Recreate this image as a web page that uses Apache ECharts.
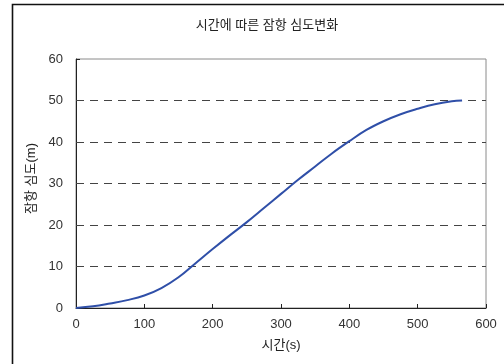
<!DOCTYPE html>
<html>
<head>
<meta charset="utf-8">
<script src="https://cdn.jsdelivr.net/npm/echarts@6/dist/echarts.min.js"></script>
<style>
html,body{margin:0;padding:0;background:#fff;}
#c{width:504px;height:364px;}
</style>
</head>
<body>
<div id="c"></div>
<script>
var timeS = [0,25,50,75,100,125,150,175,200,225,250,275,300,325,350,375,400,425,450,475,500,525,550,565];
var depthM = [0,0.4,1.1,1.9,3.0,4.8,7.4,10.8,14.2,17.5,20.7,24.1,27.5,30.9,34.1,37.3,40.2,42.9,45.0,46.7,48.0,49.1,49.8,50.0];
var gridValues = [10,20,30,40,50];
var titleText = '시간에 따른 잠항 심도변화';
var xName = '시간(s)';
var yName = '잠항 심도(m)';

var FONT = '"Liberation Sans", "Noto Sans CJK KR", sans-serif';
var chart = echarts.init(document.getElementById('c'), null, {renderer:'canvas'});
var pts = timeS.map(function(t,i){return [t, depthM[i]];});
chart.setOption({
  animation:false,
  backgroundColor:'#fff',
  title:{text:titleText, left:262, top:14, textAlign:'center',
    textStyle:{fontFamily:FONT, fontSize:13, fontWeight:'normal', color:'#222'}},
  graphic:[
    {type:'polyline', shape:{points:[[12.5,370],[12.5,4.5],[510,4.5]]}, style:{stroke:'#111', lineWidth:1.6, fill:null}, z:10}
  ],
  grid:{left:76, top:59, width:410, height:249, show:true, borderColor:'#8a8a8a', borderWidth:1, backgroundColor:'#fff'},
  xAxis:{type:'value', min:0, max:600, interval:100,
    name:xName, nameLocation:'middle', nameGap:31,
    nameTextStyle:{fontFamily:FONT, fontSize:13, color:'#222'},
    axisLine:{lineStyle:{color:'#222', width:1}},
    axisTick:{inside:true, length:4, lineStyle:{color:'#222'}},
    axisLabel:{fontFamily:FONT, fontSize:13, color:'#333', margin:10},
    splitLine:{show:false}},
  yAxis:{type:'value', min:0, max:60, interval:10,
    name:yName, nameLocation:'middle', nameGap:37, nameRotate:90,
    nameTextStyle:{fontFamily:FONT, fontSize:13, color:'#222', padding:[0,0,0,10]},
    axisLine:{show:true, lineStyle:{color:'#222', width:1}},
    axisTick:{show:true, inside:true, length:4, lineStyle:{color:'#222'}},
    axisLabel:{fontFamily:FONT, fontSize:13, color:'#333', margin:13},
    splitLine:{show:false}},
  series:[{
    type:'line', data:pts, smooth:0.4, showSymbol:false, symbol:'none',
    lineStyle:{color:'#2F4FA8', width:2},
    markLine:{silent:true, symbol:['none','none'], label:{show:false},
      lineStyle:{type:[8,6], color:'#444', width:1},
      data:gridValues.map(function(v){return {yAxis:v};}), animation:false, z:1},
    z:3
  }]
});
</script>
</body>
</html>
